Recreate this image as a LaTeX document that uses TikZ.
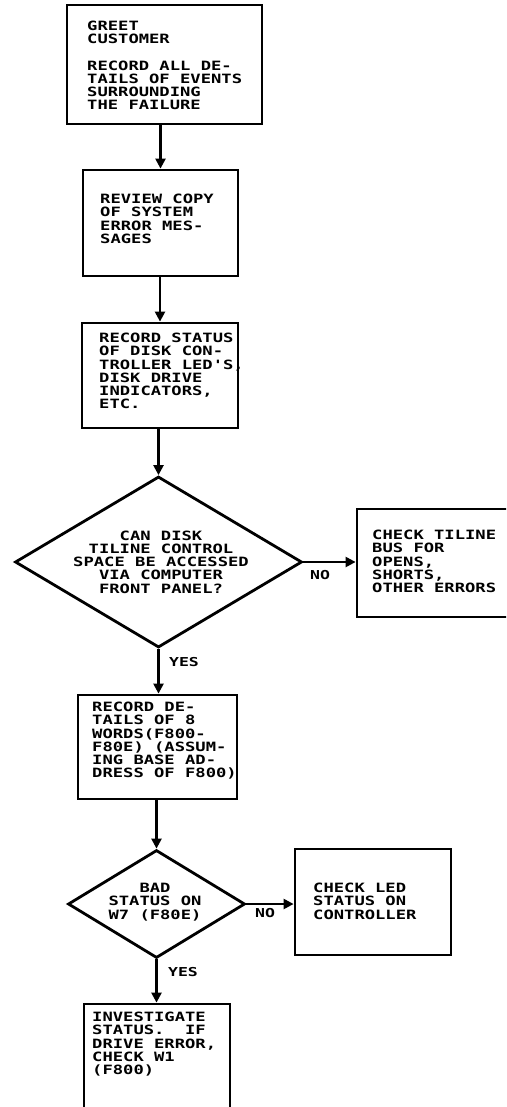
\documentclass[tikz,border=0pt]{standalone}
\usepackage{fontspec}
\usetikzlibrary{shapes.geometric,arrows.meta}
\newfontfamily\leroy[FakeStretch=1.34]{DejaVu Sans Mono}
\begin{document}
\begin{tikzpicture}[x=1pt,y=-1pt,
  box/.style={draw,line width=2.8pt,inner sep=0pt,rectangle},
  dia/.style={draw,line width=2.8pt,inner sep=0pt,diamond},
  txt/.style={inner sep=0pt,anchor=north west,align=left,font=\leroy\bfseries\fontsize{12.8}{13.2}\selectfont},
  ctxt/.style={inner sep=0pt,align=center,font=\leroy\bfseries\fontsize{12.8}{13.2}\selectfont},
  lbl/.style={inner sep=0pt,font=\leroy\bfseries\fontsize{12.3}{13}\selectfont},
  arr/.style={line width=2.3pt,-{Triangle[length=10pt,width=10pt]}}]
\useasboundingbox (0,0) rectangle (506,1107);
\clip (0,0) rectangle (506,1107);
% boxes
\node[box,minimum width=195pt,minimum height=119pt] (b1) at (164.5,64.5) {};
\node[box,minimum width=155pt,minimum height=106pt] (b2) at (160.5,223) {};
\node[box,minimum width=156pt,minimum height=105pt] (b3) at (160,375.5) {};
\node[dia,minimum width=287pt,minimum height=171pt] (d1) at (158.5,562) {};
\node[box,minimum width=163pt,minimum height=108pt] (r1) at (438.5,563) {};
\node[box,minimum width=159pt,minimum height=104pt] (b5) at (157.5,747) {};
\node[dia,minimum width=177pt,minimum height=108pt] (d2) at (156.5,904) {};
\node[box,minimum width=156pt,minimum height=106pt] (r2) at (373,902) {};
\node[box,minimum width=146pt,minimum height=116pt] (b7) at (157,1062) {};
% texts
\node[txt] (t1) at (87,21) {GREET\\CUSTOMER\\[13.2pt]RECORD ALL DE-\\TAILS OF EVENTS\\SURROUNDING\\THE FAILURE};
\node[txt] (t2) at (100,194) {REVIEW COPY\\OF SYSTEM\\ERROR MES-\\SAGES};
\node[txt] (t3) at (99,333) {RECORD STATUS\\OF DISK CON-\\TROLLER LED'S,\\DISK DRIVE\\INDICATORS,\\ETC.};
\node[ctxt] (t4) at (161,562) {CAN DISK\\TILINE CONTROL\\SPACE BE ACCESSED\\VIA COMPUTER\\FRONT PANEL?};
\node[txt] (t5) at (372,530) {CHECK TILINE\\BUS FOR\\OPENS,\\SHORTS,\\OTHER ERRORS};
\node[txt] (t6) at (92,702) {RECORD DE-\\TAILS OF 8\\WORDS(F800-\\F80E) (ASSUM-\\ING BASE AD-\\DRESS OF F800)};
\node[ctxt] (t7) at (155,902) {BAD\\STATUS ON\\W7 (F80E)};
\node[txt] (t8) at (313,883) {CHECK LED\\STATUS ON\\CONTROLLER};
\node[txt] (t9) at (92,1012) {INVESTIGATE\\STATUS.\ \ IF\\DRIVE ERROR,\\CHECK W1\\(F800)};
% labels
\node[lbl] (no1) at (320,575) {NO};
\node[lbl] (yes1) at (184,662) {YES};
\node[lbl] (no2) at (265,913) {NO};
\node[lbl] (yes2) at (183,972) {YES};
% connectors
\draw[arr] (b1.south -| b2.north) -- (b2.north);
\draw[arr] (b2.south -| b3.north) -- (b3.north);
\draw[arr] (b3.south -| d1.north) -- (d1.north);
\draw[arr] (d1.east) -- (d1.east -| r1.west);
\draw[arr] (d1.south) -- (d1.south |- b5.north);
\draw[arr] (b5.south -| d2.north) -- (d2.north);
\draw[arr] (d2.east) -- (d2.east -| r2.west);
\draw[arr] (d2.south) -- (d2.south |- b7.north);
\end{tikzpicture}
\end{document}
